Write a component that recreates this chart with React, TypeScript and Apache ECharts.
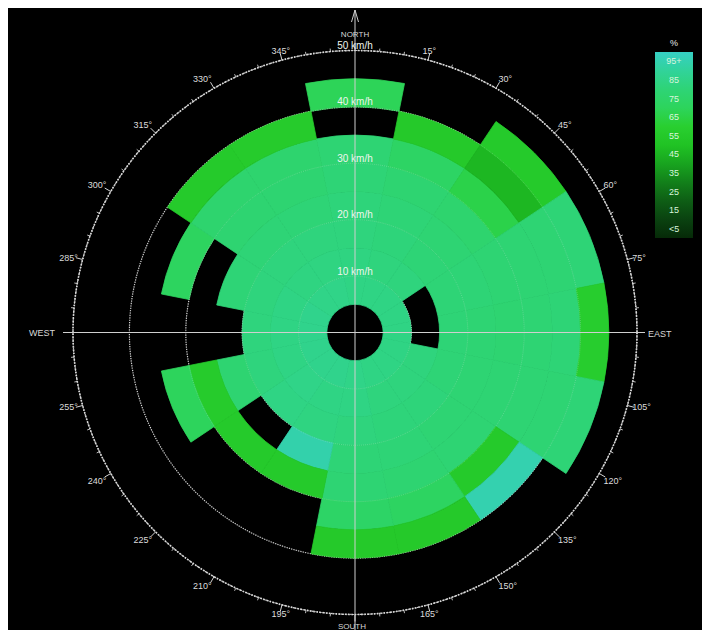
import React, { useEffect, useRef } from "react";
import * as echarts from "echarts";

// ---- data ----
const directions = ["N", "NNE", "NE", "ENE", "E", "ESE", "SE", "SSE", "S", "SSW", "SW", "WSW", "W", "WNW", "NW", "NNW"];
const directionAngles = [0, 22.5, 45, 67.5, 90, 112.5, 135, 157.5, 180, 202.5, 225, 247.5, 270, 292.5, 315, 337.5];
// speed bin edges (km/h): bins 5-10, 10-15, ..., 40-45
const speedEdges = [5, 10, 15, 20, 25, 30, 35, 40, 45];

// percentage per speed bin, null = no data (black)
const pctN = [84, 83, 82, 81, 80, 79, null, 69];
const pctNNE = [84, 82, 81, 80, 78, 73, 55, null];
const pctNE = [84, 82, 80, 79, 77, 66, 46, 56];
const pctENE = [84, null, 80, 80, 79, 79, 79, 80];
const pctE = [84, null, 80, 79, 78, 79, 80, 58];
const pctESE = [84, 82, 80, 79, 79, 79, 79, 80];
const pctSE = [84, 82, 81, 79, 79, 56, 95, null];
const pctSSE = [84, 82, 81, 80, 78, 72, 55, null];
const pctS = [85, 84, 82, 80, 79, 74, 55, null];
const pctSSW = [86, 84, 83, 94, 56, null, null, null];
const pctSW = [86, 85, 84, null, 56, null, null, null];
const pctWSW = [86, 84, 82, 78, 57, 70, null, null];
const pctW = [86, 84, 82, null, null, null, null, null];
const pctWNW = [86, 84, 82, 80, null, 71, null, null];
const pctNW = [85, 83, 82, 80, 78, 77, 56, null];
const pctNNW = [85, 83, 82, 80, 78, 77, 57, null];

const pctByDirection = [pctN, pctNNE, pctNE, pctENE, pctE, pctESE, pctSE, pctSSE, pctS, pctSSW, pctSW, pctWSW, pctW, pctWNW, pctNW, pctNNW];

const speedTickLabels = ["", "10 km/h", "20 km/h", "30 km/h", "40 km/h", "50 km/h"];
const compassLabels = ["NORTH", "EAST", "SOUTH", "WEST"];
const legendLabels = ["95+", "85", "75", "65", "55", "45", "35", "25", "15", "<5"];

// colour scale from 0 % to 100 %
const colorScale = ["#062a08", "#0a4210", "#0e5e15", "#12801a", "#18a41f", "#20c324", "#29cf30", "#2dd45c", "#2ed476", "#31d39a", "#36cfc4"];

// ---- layout ----
const W = 694;
const H = 622;
const CX = 347;
const CY = 324.5;
const R = 282;
const HALF_SECTOR = 11.25;
const FONT = "Liberation Sans, Arial, sans-serif";

export default function App() {
  const ref = useRef<HTMLDivElement>(null);

  useEffect(() => {
    if (!ref.current) return;
    const chart = echarts.init(ref.current, undefined, { renderer: "svg" });

    const data: any[] = [];
    pctByDirection.forEach((arr, d) => {
      arr.forEach((v, k) => {
        if (v === null || v === undefined) return;
        data.push([speedEdges[k], directionAngles[d], speedEdges[k + 1], v, directions[d]]);
      });
    });

    const legendX = 647, legendY = 44, legendW = 38, legendH = 186;
    const legendStep = legendH / legendLabels.length;

    const graphic: any[] = [
      // crosshair
      { type: "line", z: 50, shape: { x1: CX, y1: 2, x2: CX, y2: H }, style: { stroke: "#cfcfcf", lineWidth: 1 } },
      { type: "line", z: 50, shape: { x1: 55, y1: CY, x2: CX + R + 8, y2: CY }, style: { stroke: "#cfcfcf", lineWidth: 1 } },
      { type: "polyline", z: 50, shape: { points: [[CX - 3.5, 14], [CX, 2], [CX + 3.5, 14]] }, style: { stroke: "#cfcfcf", lineWidth: 1, fill: null } },
      { type: "text", z: 50, x: CX, y: CY - R - 16, style: { text: compassLabels[0], fill: "#d8d8d8", font: `8px ${FONT}`, align: "center", verticalAlign: "middle" } },
      { type: "text", z: 50, x: CX + R + 11, y: CY + 1, style: { text: compassLabels[1], fill: "#d8d8d8", font: `9px ${FONT}`, align: "left", verticalAlign: "middle" } },
      { type: "text", z: 50, x: CX - 3, y: CY + R + 12, style: { text: compassLabels[2], fill: "#d8d8d8", font: `8px ${FONT}`, align: "center", verticalAlign: "middle" } },
      { type: "text", z: 50, x: CX - R - 18, y: CY, style: { text: compassLabels[3], fill: "#d8d8d8", font: `9px ${FONT}`, align: "right", verticalAlign: "middle" } },
      // legend
      {
        type: "rect", z: 50, shape: { x: legendX, y: legendY, width: legendW, height: legendH },
        style: {
          fill: new echarts.graphic.LinearGradient(0, 0, 0, 1,
            colorScale.slice().reverse().map((c, i) => ({ offset: i / (colorScale.length - 1), color: c }))),
        },
      },
      { type: "text", z: 51, x: legendX + legendW / 2, y: legendY - 9, style: { text: "%", fill: "#e8e8e8", font: `9px ${FONT}`, align: "center", verticalAlign: "middle" } },
      ...legendLabels.map((t, i) => ({
        type: "text", z: 51, x: legendX + legendW / 2, y: legendY + legendStep * (i + 0.5),
        style: { text: t, fill: "#d8f5dc", font: `9px ${FONT}`, align: "center", verticalAlign: "middle" },
      })),
    ];

    chart.setOption({
      animation: false,
      backgroundColor: "#000",
      textStyle: { fontFamily: FONT },
      polar: [
        { center: [CX, CY], radius: R },
        { center: [CX, CY], radius: R },
      ],
      angleAxis: [
        {
          polarIndex: 0, type: "value", min: 0, max: 360, interval: 15, startAngle: 90, clockwise: true,
          axisLine: { show: true, lineStyle: { color: "#d6d6d6", type: "dotted", width: 1.6 } },
          axisTick: { show: true, length: 7, lineStyle: { color: "#d6d6d6" } },
          minorTick: { show: true, splitNumber: 3, length: 3, lineStyle: { color: "#bdbdbd" } },
          axisLabel: {
            color: "#dcdcdc", fontSize: 9, margin: 5,
            formatter: (v: number) => (v % 90 === 0 ? "" : v + "°"),
          },
          splitLine: { show: false },
        },
        {
          polarIndex: 1, type: "value", min: 0, max: 360, interval: 15, startAngle: 90, clockwise: true,
          axisLine: { show: false }, axisTick: { show: false }, axisLabel: { show: false }, splitLine: { show: false },
        },
      ],
      radiusAxis: [
        {
          polarIndex: 0, type: "value", min: 0, max: 50, interval: 10,
          axisLine: { show: false }, axisTick: { show: false }, axisLabel: { show: false },
          splitLine: { show: true, lineStyle: { type: "dotted", color: "#cfcfcf", width: 1.2 } },
        },
        {
          polarIndex: 1, type: "value", min: 0, max: 50, interval: 10, z: 10,
          axisLine: { show: false }, axisTick: { show: false },
          axisLabel: {
            color: "#eef5ee", fontSize: 10, margin: 0, align: "center", verticalAlign: "bottom",
            formatter: (v: number) => speedTickLabels[Math.round(v / 10)] || "",
          },
          splitLine: { show: true, lineStyle: { type: "dotted", color: "rgba(255,255,255,0.2)", width: 1 } },
        },
      ],
      visualMap: [
        {
          type: "continuous", show: false, min: 0, max: 100, dimension: 3, seriesIndex: 0,
          inRange: { color: colorScale },
        },
      ],
      series: [
        {
          type: "custom",
          coordinateSystem: "polar",
          polarIndex: 0,
          data,
          renderItem: (params: any, api: any) => {
            const r0v = api.value(0);
            const ang = api.value(1);
            const r1v = api.value(2);
            const cs = params.coordSys;
            const p0 = api.coord([r0v, ang]);
            const p1 = api.coord([r1v, ang]);
            const rr0 = Math.hypot(p0[0] - cs.cx, p0[1] - cs.cy);
            const rr1 = Math.hypot(p1[0] - cs.cx, p1[1] - cs.cy);
            const a0 = ((ang - HALF_SECTOR - 90) * Math.PI) / 180;
            const a1 = ((ang + HALF_SECTOR - 90) * Math.PI) / 180;
            const c = api.visual("color");
            return {
              type: "sector",
              shape: { cx: cs.cx, cy: cs.cy, r0: rr0, r: rr1, startAngle: a0, endAngle: a1, clockwise: true },
              style: { fill: c, stroke: c, lineWidth: 0.8 },
            };
          },
        },
      ],
      graphic,
    });

    return () => chart.dispose();
  }, []);

  return (
    <div
      ref={ref}
      style={{ position: "fixed", left: 8, top: 8, width: W, height: H }}
    />
  );
}
